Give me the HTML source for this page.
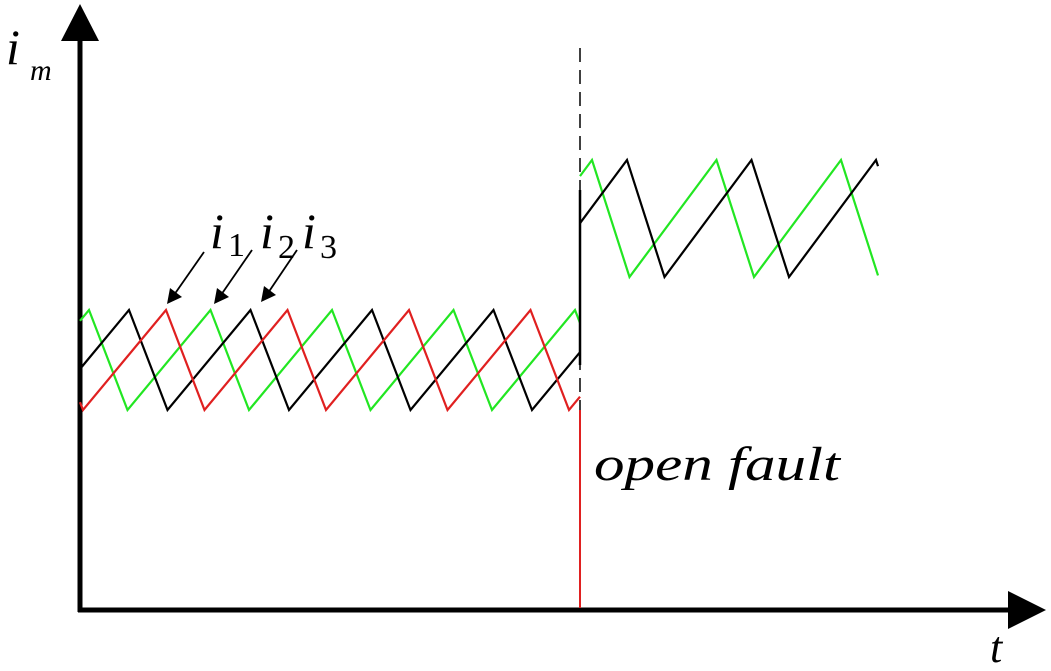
<!DOCTYPE html>
<html><head><meta charset="utf-8"><style>
html,body{margin:0;padding:0;background:#fff;}
svg{display:block}
text{font-family:"Liberation Serif",serif;font-style:italic;fill:#000}
</style></head><body>
<svg id="s" width="1051" height="671" viewBox="0 0 1051 671" xmlns="http://www.w3.org/2000/svg">
<line x1="80" y1="612" x2="80" y2="35" stroke="#000" stroke-width="5"/>
<polygon points="80,4 61,41 99,41" fill="#000"/>
<line x1="78" y1="610" x2="1010" y2="610" stroke="#000" stroke-width="5"/>
<polygon points="1046,610 1008,591 1008,629" fill="#000"/>
<line x1="580" y1="48" x2="580" y2="610" stroke="#000" stroke-width="1.5" stroke-dasharray="14,8"/>
<g id="waves" fill="none" stroke-width="2.2"></g>
<line x1="580" y1="190" x2="580" y2="365" stroke="#000" stroke-width="2.5"/>
<line x1="580" y1="410" x2="580" y2="608" stroke="#e02020" stroke-width="2"/>
<text x="6" y="64" font-size="50">i</text><text x="30" y="80" font-size="30">m</text>
<text x="210" y="248" font-size="50">i</text><text x="228" y="256" font-size="34" style="font-style:normal">1</text>
<text x="260" y="248" font-size="50">i</text><text x="278" y="258" font-size="34" style="font-style:normal">2</text>
<text x="302" y="248" font-size="50">i</text><text x="320" y="258" font-size="34" style="font-style:normal">3</text>
<g stroke="#000" stroke-width="1.8">
<line x1="204" y1="252" x2="174" y2="295"/><line x1="252" y1="250" x2="221" y2="295"/><line x1="297" y1="250" x2="268" y2="293"/>
</g>
<polygon points="167,304 170,288 182,297" fill="#000"/>
<polygon points="214,304 217,288 229,297" fill="#000"/>
<polygon points="261,302 264,286 276,295" fill="#000"/>
<text x="594" y="480" font-size="48" textLength="246" lengthAdjust="spacingAndGlyphs">open  fault</text>
<text x="990" y="662" font-size="44">t</text>
</svg>
<script>
function wave(x0,x1,peak,T,R,top,bot,color){
  var F=T-R, pts=[];
  function y(x){var d=((x-peak)%T+T)%T;
    if(d<F) return top+(bot-top)*d/F; return bot-(bot-top)*(d-F)/R;}
  pts.push([x0,y(x0)]);
  var k=Math.floor((x0-peak)/T)-1;
  for(;;k++){var p=peak+k*T,b=p+F;
    if(p>x0&&p<x1)pts.push([p,top]);
    if(b>x0&&b<x1)pts.push([b,bot]);
    if(p>x1)break;}
  pts.push([x1,y(x1)]);
  pts.sort(function(a,b){return a[0]-b[0]});
  var pl=document.createElementNS("http://www.w3.org/2000/svg","polyline");
  pl.setAttribute("points",pts.map(function(p){return p[0].toFixed(1)+","+p[1].toFixed(1)}).join(" "));
  pl.setAttribute("stroke",color);
  document.getElementById("waves").appendChild(pl);
}
var T=121.5,R=83;
wave(80,580,89,T,R,310,410,"#22e622");
wave(80,580,129,T,R,310,410,"#000");
wave(80,580,166,T,R,310,410,"#e02020");
var T2=124.5,R2=87;
wave(580,878,592,T2,R2,160,277,"#22e622");
wave(580,878,627,T2,R2,160,277,"#000");
</script>
</body></html>
